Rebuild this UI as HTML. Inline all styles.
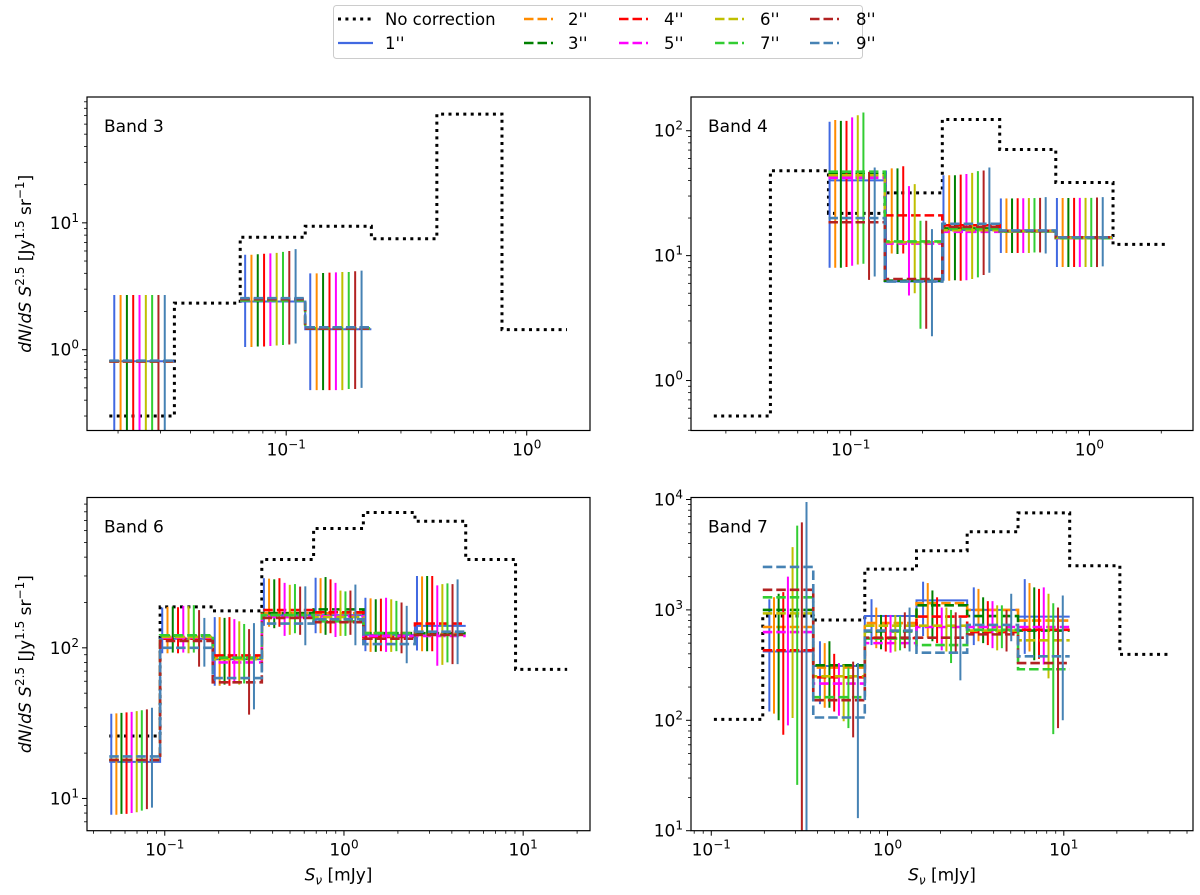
<!DOCTYPE html>
<html><head><meta charset="utf-8">
<style>
html,body{margin:0;padding:0;background:#fff;}
svg{display:block;font-family:"DejaVu Sans","Liberation Sans",sans-serif;}
</style></head>
<body>
<svg id="fig" width="1200" height="895" viewBox="0 0 1200 895" xmlns="http://www.w3.org/2000/svg">
<g id="legend">
<rect x="333.5" y="5.5" width="529" height="53" rx="3" fill="#fff" stroke="#ccc"/>
</g>
</svg>
<script>
const seriesNames = ["1''","2''","3''","4''","5''","6''","7''","8''","9''"];
const seriesColors = ["#4169e1","#ff8c00","#008000","#ff0000","#ff00ff","#bfbf00","#32cd32","#b22222","#4682b4"];
const N = null;

// Band 3
const b3Edges = [0.0184,0.0343,0.0644,0.120,0.226,0.423,0.789,1.47];
const b3NoCorr = [0.30,2.33,7.7,9.4,7.5,72,1.44];
const b3Vals = [
[0.81,N,2.4,1.45,N,N,N],[0.81,N,2.5,1.47,N,N,N],[0.81,N,2.5,1.47,N,N,N],
[0.81,N,2.5,1.47,N,N,N],[0.81,N,2.5,1.47,N,N,N],[0.81,N,2.45,1.47,N,N,N],
[0.81,N,2.45,1.47,N,N,N],[0.81,N,2.5,1.47,N,N,N],[0.82,N,2.55,1.5,N,N,N]];
const b3Hi = [
[2.7,N,5.6,4.0,N,N,N],[2.7,N,5.6,4.0,N,N,N],[2.7,N,5.65,4.02,N,N,N],
[2.7,N,5.7,4.05,N,N,N],[2.7,N,5.75,4.07,N,N,N],[2.7,N,5.8,4.1,N,N,N],
[2.7,N,5.9,4.1,N,N,N],[2.7,N,6.0,4.15,N,N,N],[2.7,N,6.2,4.2,N,N,N]];
const b3Lo = [
[0.1,N,1.05,0.48,N,N,N],[0.1,N,1.05,0.48,N,N,N],[0.1,N,1.06,0.48,N,N,N],
[0.1,N,1.06,0.48,N,N,N],[0.1,N,1.07,0.48,N,N,N],[0.1,N,1.08,0.48,N,N,N],
[0.1,N,1.09,0.49,N,N,N],[0.1,N,1.1,0.49,N,N,N],[0.1,N,1.12,0.5,N,N,N]];

// Band 4
const b4Edges = [0.0267,0.0461,0.0807,0.139,0.242,0.421,0.723,1.256,2.09];
const b4NoCorr = [0.52,47.8,21.8,31.8,123,70.8,38.5,12.3];
const b4Vals = [
[N,N,40,6.2,16,15.7,13.9,N],[N,N,43,12.8,17,15.7,13.9,N],[N,N,45,6.3,16.5,15.6,13.8,N],
[N,N,43,21,17.5,15.8,14,N],[N,N,42,12.5,15.5,15.6,13.8,N],[N,N,44,12.8,16,15.7,13.9,N],
[N,N,47,13,16.5,15.6,13.8,N],[N,N,18.5,6.5,17,15.8,14,N],[N,N,20,6.2,18,15.9,14,N]];
const b4Hi = [
[N,N,118,48,44,28.7,28.9,N],[N,N,122,50,44,28.7,28.9,N],[N,N,120,50,44,28.7,28.9,N],
[N,N,120,52,44.5,28.8,29,N],[N,N,128,36,45,28.8,29,N],[N,N,133,37.4,46,28.9,29,N],
[N,N,140,19,47.5,28.9,29,N],[N,N,46.8,19,48,29,29.2,N],[N,N,50.8,16.3,50.8,29.4,29.4,N]];
const b4Lo = [
[N,N,8,6.6,6.3,10.5,8.1,N],[N,N,8,10.4,6.3,10.5,8.1,N],[N,N,8,10.3,6.35,10.5,8.1,N],
[N,N,8.1,10.4,6.3,10.5,8.1,N],[N,N,8.3,4.8,6.35,10.5,8.1,N],[N,N,8.5,5,6.5,10.5,8.1,N],
[N,N,8.6,2.6,6.7,10.6,8.1,N],[N,N,6.4,2.6,7,10.6,8.1,N],[N,N,6.8,2.26,7.3,10.4,8.2,N]];

// Band 6
const b6Edges = [0.049,0.0942,0.1853,0.348,0.677,1.283,2.49,4.78,9.07,17.6];
const b6NoCorr = [26,187,176,386,620,791,692,386,72];
const b6Vals = [
[17.5,115,84,165,165,122,140,N,N],[18,118,86,170,170,125,125,N,N],[18,120,85,170,180,125,125,N,N],
[18,115,89,178,172,118,145,N,N],[18,117,80,160,162,120,120,N,N],[18,118,84,165,160,125,122,N,N],
[18,121,86,165,150,125,122,N,N],[18,111,59,158,148,115,122,N,N],[19,100,63,145,155,106,128,N,N]];
const b6Hi = [
[36.5,185,160,290,292,215,300,N,N],[36.7,187,160,288,290,213,298,N,N],[37,188,158,285,295,210,300,N,N],
[37.3,186,160,290,285,212,300,N,N],[37.6,190,155,270,270,215,260,N,N],[38,189,150,262,240,210,265,N,N],
[38.5,192,144,265,237,205,268,N,N],[39,178,133,255,240,200,265,N,N],[40,158,146,256,263,190,285,N,N]];
const b6Lo = [
[7.8,92,56,140,125,95,96,N,N],[7.8,92,56,138,125,94,95,N,N],[7.9,93,57,135,122,94,95,N,N],
[7.9,92,56,138,125,95,95,N,N],[8,93,58,120,118,94,76,N,N],[8.1,92,57,122,120,94,77,N,N],
[8.3,93,58,125,120,95,80,N,N],[8.5,75,36,122,122,92,78,N,N],[8.7,75,39,104,104,79,78,N,N]];

// Band 7
const b7Edges = [0.1035,0.196,0.379,0.743,1.46,2.83,5.5,10.8,20.8,38.9];
const b7NoCorr = [102,880,810,2340,3430,5100,7570,2510,395];
const b7Vals = [
[N,420,310,880,1220,1000,870,N,N],[N,700,300,760,1150,1000,800,N,N],[N,1000,315,640,1100,880,650,N,N],
[N,430,245,555,870,630,660,N,N],[N,630,215,500,700,700,700,N,N],[N,930,250,720,720,650,530,N,N],
[N,1300,162,550,480,660,290,N,N],[N,1520,152,560,560,600,330,N,N],[N,2450,106,650,410,730,380,N,N]];
const b7Hi = [
[N,1250,520,1250,1800,1600,1900,N,N],[N,1300,500,1050,1750,1550,1750,N,N],[N,1400,520,900,1500,1300,1600,N,N],
[N,1450,400,900,1300,1200,1550,N,N],[N,2000,330,900,1050,1200,1600,N,N],[N,3700,320,900,1050,1100,1400,N,N],
[N,5800,300,880,1000,1100,1150,N,N],[N,6200,340,950,950,1000,1050,N,N],[N,9500,330,1050,850,1400,1350,N,N]];
const b7Lo = [
[N,120,140,480,580,480,400,N,N],[N,115,130,450,560,520,420,N,N],[N,100,130,440,520,500,350,N,N],
[N,74,120,420,500,480,360,N,N],[N,90,110,410,430,450,320,N,N],[N,105,98,420,420,430,240,N,N],
[N,26,85,430,330,450,75,N,N],[N,5,70,450,400,420,85,N,N],[N,5,13,420,230,520,100,N,N]];

const NS = "http://www.w3.org/2000/svg";
const svg = document.getElementById('fig');
function mk(tag, attrs, parent){
  const e = document.createElementNS(NS, tag);
  for (const k in attrs) e.setAttribute(k, attrs[k]);
  (parent||svg).appendChild(e);
  return e;
}
const L10 = Math.log10;

function panel(cfg){
  const g = mk('g', {});
  
  
  const {L,R,T,B,xmin,xmax,ymin,ymax} = cfg;
  const X = v => L + (L10(v)-xmin)/(xmax-xmin)*(R-L);
  const Y = v => B - (L10(v)-ymin)/(ymax-ymin)*(B-T);
  const cid = 'clip-'+cfg.name;
  const cp = mk('clipPath', {id:cid}, g);
  mk('rect', {x:L, y:T, width:R-L, height:B-T}, cp);
  const plot = mk('g', {'clip-path':'url(#'+cid+')'}, g);
  
  

  function stepPath(vals){
    let d = '', prev = false;
    for (let i=0;i<vals.length;i++){
      const v = vals[i];
      if (v==null){ prev=false; continue; }
      const y = Y(v).toFixed(2);
      if (prev) d += ' V'+y+' H'+X(cfg.edges[i+1]).toFixed(2);
      else d += ' M'+X(cfg.edges[i]).toFixed(2)+' '+y+' H'+X(cfg.edges[i+1]).toFixed(2);
      prev = true;
    }
    return d;
  }
  const nc = mk('path', {d:stepPath(cfg.nocorr), fill:'none', stroke:'#000', 'stroke-width':3, 'stroke-dasharray':'3,4.4'}, plot);
  
  

  for (let s=0;s<9;s++){
    const sg = mk('g', {}, plot);
    
    
    const st = mk('path', {d:stepPath(cfg.vals[s]), fill:'none', stroke:seriesColors[s], 'stroke-width': s===0?2:2.6,
      'stroke-dasharray': s===0?'none':'9.5,4'}, sg);
    
    
    for (let i=0;i<cfg.vals[s].length;i++){
      if (cfg.hi[s][i]==null) continue;
      const a = L10(cfg.edges[i]), b = L10(cfg.edges[i+1]);
      const f = cfg.fs + s*cfg.fstep;
      const xv = Math.pow(10, a + f*(b-a));
      const x = X(xv).toFixed(2);
      const eb = mk('line', {x1:x, x2:x, y1:Y(cfg.hi[s][i]).toFixed(2), y2:Y(cfg.lo[s][i]).toFixed(2), stroke:seriesColors[s], 'stroke-width':2}, sg);
      
      
    }
  }
  const fr = mk('rect', {x:L, y:T, width:R-L, height:B-T, fill:'none', stroke:'#000', 'stroke-width':1.2}, g);
  
  
  const xa = mk('g', {}, g);
  
  
  for (let d=Math.floor(xmin); d<=Math.ceil(xmax); d++){
    for (let k=1;k<10;k++){
      const lv = d + L10(k);
      if (lv < xmin-1e-9 || lv > xmax+1e-9) continue;
      const x = X(Math.pow(10,lv));
      mk('line', {x1:x, x2:x, y1:B, y2:B+(k===1?5:3), stroke:'#000', 'stroke-width':k===1?1:0.8}, xa);
      if (k===1){
        const t = mk('text', {x:x, y:B+25, 'text-anchor':'middle', 'font-size':17, fill:'#000'}, xa);
        
        
        t.appendChild(document.createTextNode('10'));
        const sp = mk('tspan', {dy:-7, 'font-size':12}, t);
        sp.textContent = d<0 ? '\u2212'+(-d) : String(d);
      }
    }
  }
  const ya = mk('g', {}, g);
  
  
  for (let d=Math.floor(ymin); d<=Math.ceil(ymax); d++){
    for (let k=1;k<10;k++){
      const lv = d + L10(k);
      if (lv < ymin-1e-9 || lv > ymax+1e-9) continue;
      const y = Y(Math.pow(10,lv));
      mk('line', {x1:L-(k===1?5:3), x2:L, y1:y, y2:y, stroke:'#000', 'stroke-width':k===1?1:0.8}, ya);
      if (k===1){
        const t = mk('text', {x:L-8, y:y+6, 'text-anchor':'end', 'font-size':17, fill:'#000'}, ya);
        
        
        t.appendChild(document.createTextNode('10'));
        const sp = mk('tspan', {dy:-7, 'font-size':12}, t);
        sp.textContent = d<0 ? '\u2212'+(-d) : String(d);
      }
    }
  }
  const bl = mk('text', {x:L+17, y:T+35, 'font-size':17, fill:'#000'}, g);
  
  
  bl.textContent = cfg.label;

  if (cfg.yTitle){
    const cy = (T+B)/2;
    const t = mk('text', {x:0, y:0, transform:'translate(31,'+cy+') rotate(-90)', 'text-anchor':'middle', 'font-size':17, fill:'#000'}, g);
    
    
    t.innerHTML = '<tspan font-style="italic">dN</tspan>/<tspan font-style="italic">dS S</tspan><tspan dy="-7" font-size="12">2.5</tspan><tspan dy="7"> [Jy</tspan><tspan dy="-7" font-size="12">1.5</tspan><tspan dy="7"> sr</tspan><tspan dy="-7" font-size="12">\u22121</tspan><tspan dy="7">]</tspan>';
  }
  if (cfg.xTitle){
    const t = mk('text', {x:(L+R)/2, y:B+50, 'text-anchor':'middle', 'font-size':17, fill:'#000'}, g);
    
    
    t.innerHTML = '<tspan font-style="italic">S</tspan><tspan dy="4" font-size="12" font-style="italic">\u03bd</tspan><tspan dy="-4"> [mJy]</tspan>';
  }
}

panel({name:'band3-panel', label:'Band 3', L:87, R:590, T:97, B:430.5, xmin:-1.828, xmax:0.263, ymin:-0.637, ymax:1.992,
  edges:b3Edges, nocorr:b3NoCorr, vals:b3Vals, hi:b3Hi, lo:b3Lo, fs:0.076, fstep:0.097, yTitle:true});
panel({name:'band4-panel', label:'Band 4', L:691, R:1193, T:97, B:430.5, xmin:-1.669, xmax:0.434, ymin:-0.4, ymax:2.27,
  edges:b4Edges, nocorr:b4NoCorr, vals:b4Vals, hi:b4Hi, lo:b4Lo, fs:0.02, fstep:0.1});
panel({name:'band6-panel', label:'Band 6', L:87, R:590, T:497.5, B:830.7, xmin:-1.434, xmax:1.373, ymin:0.786, ymax:2.998,
  edges:b6Edges, nocorr:b6NoCorr, vals:b6Vals, hi:b6Hi, lo:b6Lo, fs:0.04, fstep:0.1, yTitle:true, xTitle:true});
panel({name:'band7-panel', label:'Band 7', L:691, R:1193, T:497.5, B:830.7, xmin:-1.115, xmax:1.733, ymin:1.0, ymax:4.018,
  edges:b7Edges, nocorr:b7NoCorr, vals:b7Vals, hi:b7Hi, lo:b7Lo, fs:0.13, fstep:0.092, xTitle:true});

const legend = document.getElementById('legend');
svg.appendChild(legend);
const legItems = [
  {t:'No correction', c:'#000', dash:'3,4.4', w:3, x1:338, x2:373, tx:385, y:19},
  {t:"1''", c:seriesColors[0], dash:'none', w:2.2, x1:338, x2:373, tx:385, y:43},
  {t:"2''", c:seriesColors[1], dash:'9.5,4', w:2.6, x1:524, x2:553, tx:568, y:19},
  {t:"3''", c:seriesColors[2], dash:'9.5,4', w:2.6, x1:524, x2:553, tx:568, y:43},
  {t:"4''", c:seriesColors[3], dash:'9.5,4', w:2.6, x1:619, x2:648, tx:664, y:19},
  {t:"5''", c:seriesColors[4], dash:'9.5,4', w:2.6, x1:619, x2:648, tx:664, y:43},
  {t:"6''", c:seriesColors[5], dash:'9.5,4', w:2.6, x1:715, x2:744, tx:760, y:19},
  {t:"7''", c:seriesColors[6], dash:'9.5,4', w:2.6, x1:715, x2:744, tx:760, y:43},
  {t:"8''", c:seriesColors[7], dash:'9.5,4', w:2.6, x1:810, x2:839, tx:856, y:19},
  {t:"9''", c:seriesColors[8], dash:'9.5,4', w:2.6, x1:810, x2:839, tx:856, y:43}
];
legItems.forEach(it=>{
  const g = mk('g', {}, legend);
  
  
  mk('line', {x1:it.x1, x2:it.x2, y1:it.y, y2:it.y, stroke:it.c, 'stroke-width':it.w, 'stroke-dasharray':it.dash}, g);
  const t = mk('text', {x:it.tx, y:it.y+6, 'font-size':16.5, fill:'#000'}, g);
  t.textContent = it.t;
});
</script>
</body></html>
